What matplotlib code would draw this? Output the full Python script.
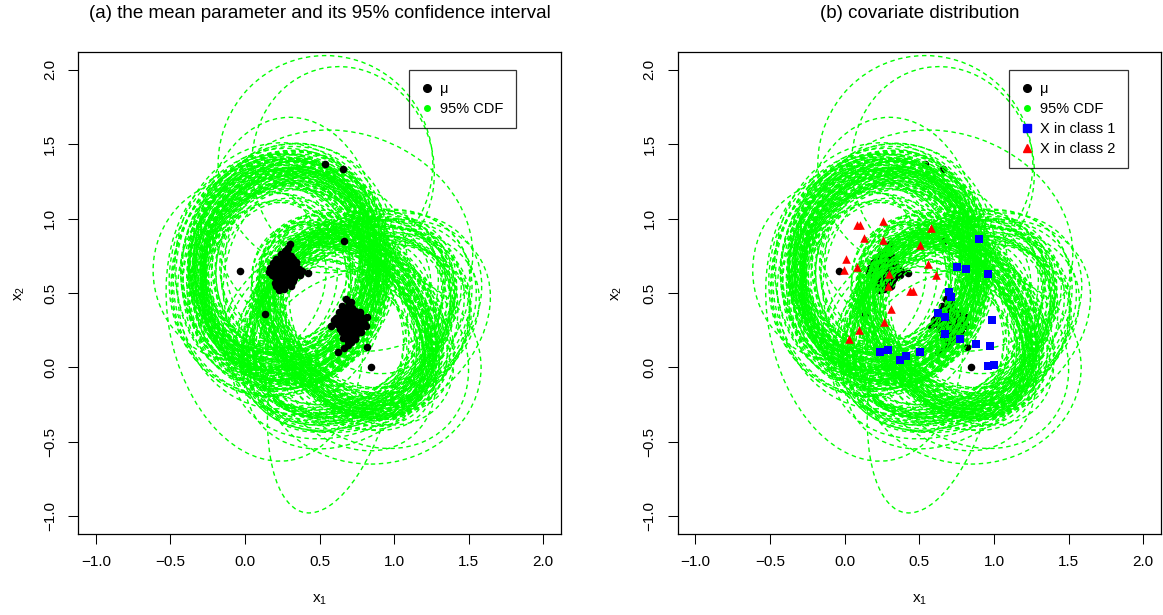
import matplotlib
matplotlib.use("Agg")
import matplotlib.pyplot as plt
from matplotlib.patches import Ellipse
from matplotlib.lines import Line2D

plt.rcParams['font.family'] = ['Liberation Sans', 'DejaVu Sans']
plt.rcParams['lines.scale_dashes'] = False

# posterior samples of the mean, class 1 (upper-left blob)
mu1_x = [0.27, 0.25, 0.29, 0.31, 0.22, 0.24, 0.28, 0.33, 0.26, 0.20, 0.30, 0.27, 0.23, 0.35, 0.29, 0.25,
         0.19, 0.32, 0.28, 0.24, 0.26, 0.30, 0.21, 0.27, 0.34, 0.22, 0.29, 0.25, 0.31, 0.18, 0.28, 0.23,
         0.26, 0.33, 0.30, 0.24, 0.27, 0.21, 0.36, 0.25, 0.29, 0.22, 0.31, 0.26, 0.28, 0.17, 0.32, 0.24,
         0.27, 0.30, 0.23, 0.29, 0.26, 0.38, 0.20, 0.28, 0.25, 0.31, 0.24, 0.27, 0.22, 0.34, 0.28, 0.26,
         0.30, 0.19, 0.27, 0.33, 0.25, 0.29, 0.23, 0.31, 0.16, 0.28, 0.26, 0.35, 0.24, 0.30, 0.21, 0.27,
         0.32, 0.25, 0.29, 0.22, 0.37, 0.27, 0.24, 0.30, 0.26, 0.20, 0.31, 0.28, 0.23, 0.33, 0.25, 0.29]
mu1_y = [0.66, 0.63, 0.69, 0.62, 0.66, 0.71, 0.60, 0.67, 0.74, 0.61, 0.72, 0.57, 0.68, 0.64, 0.65, 0.59,
         0.70, 0.58, 0.63, 0.76, 0.67, 0.61, 0.55, 0.78, 0.70, 0.64, 0.56, 0.69, 0.75, 0.62, 0.71, 0.52,
         0.62, 0.60, 0.66, 0.65, 0.68, 0.73, 0.66, 0.58, 0.80, 0.60, 0.68, 0.53, 0.64, 0.67, 0.73, 0.61,
         0.62, 0.64, 0.70, 0.59, 0.66, 0.65, 0.57, 0.67, 0.72, 0.55, 0.67, 0.69, 0.63, 0.71, 0.77, 0.60,
         0.58, 0.66, 0.73, 0.63, 0.54, 0.68, 0.62, 0.70, 0.64, 0.79, 0.61, 0.67, 0.69, 0.56, 0.66, 0.74,
         0.65, 0.71, 0.60, 0.57, 0.62, 0.63, 0.68, 0.75, 0.59, 0.68, 0.64, 0.72, 0.61, 0.66, 0.70, 0.63]
# 95% region of each sample: full major / minor axis and angle (deg)
ell1_w = [1.30, 1.42, 1.18, 1.55, 1.36, 1.25, 1.48, 1.12, 1.40, 1.62, 1.28, 1.34, 1.20, 1.50, 1.38, 1.05,
          1.44, 1.31, 1.58, 1.26, 1.35, 1.46, 1.15, 1.39, 1.29, 1.68, 1.33, 1.22, 1.52, 1.41, 1.27, 1.37,
          0.98, 1.45, 1.32, 1.24, 1.56, 1.36, 1.19, 1.43, 1.30, 1.60, 1.34, 1.23, 1.47, 1.39, 1.10, 1.35,
          1.28, 1.50, 1.42, 1.26, 1.72, 1.33, 1.21, 1.44, 1.37, 1.31, 1.53, 1.25, 1.16, 1.40, 1.29, 1.49,
          1.34, 1.22, 1.46, 1.38, 1.64, 1.27, 1.41, 1.32, 1.08, 1.36, 1.51, 1.24, 1.43, 1.30, 1.57, 1.39,
          1.26, 1.45, 1.33, 1.20, 1.48, 1.35, 1.66, 1.29, 1.40, 1.14, 1.37, 1.54, 1.28, 1.44, 1.31, 1.23]
ell1_h = [1.12, 1.20, 1.02, 1.30, 1.20, 1.04, 1.28, 0.92, 1.24, 1.38, 1.12, 1.10, 1.06, 1.28, 1.22, 0.88,
          1.22, 1.16, 1.36, 1.06, 1.18, 1.26, 1.00, 1.16, 1.12, 1.44, 1.14, 1.06, 1.30, 1.22, 1.08, 1.20,
          0.84, 1.24, 1.16, 1.06, 1.34, 1.14, 1.04, 1.26, 1.10, 1.40, 1.16, 1.06, 1.26, 1.20, 0.96, 1.14,
          1.10, 1.30, 1.20, 1.10, 1.46, 1.16, 1.02, 1.26, 1.18, 1.12, 1.32, 1.08, 1.00, 1.22, 1.10, 1.28,
          1.16, 1.04, 1.28, 1.18, 1.40, 1.10, 1.20, 1.14, 0.92, 1.18, 1.30, 1.08, 1.22, 1.14, 1.34, 1.20,
          1.08, 1.26, 1.14, 1.04, 1.28, 1.16, 1.42, 1.12, 1.22, 0.98, 1.18, 1.32, 1.10, 1.24, 1.14, 1.06]
ell1_ang = [80, 72, 95, 76, 88, 66, 84, 100, 70, 78, 92, 74, 62, 86, 81, 105,
            77, 90, 68, 83, 73, 97, 79, 64, 85, 75, 102, 71, 80, 93, 67, 78,
            88, 74, 82, 108, 69, 77, 91, 73, 65, 86, 79, 72, 96, 83, 70, 81,
            76, 99, 73, 87, 68, 80, 94, 75, 82, 71, 89, 63, 78, 101, 74, 85,
            72, 92, 80, 67, 84, 76, 98, 70, 90, 69, 83, 77, 104, 73, 81, 87,
            75, 96, 71, 84, 66, 79, 88, 74, 83, 68, 91, 78, 73, 86, 62, 80]

# posterior samples of the mean, class 2 (lower-right blob)
mu2_x = [0.70, 0.68, 0.73, 0.66, 0.75, 0.71, 0.64, 0.69, 0.77, 0.72, 0.67, 0.74, 0.70, 0.62, 0.79, 0.71,
         0.68, 0.73, 0.65, 0.76, 0.70, 0.72, 0.60, 0.74, 0.69, 0.81, 0.67, 0.71, 0.75, 0.63, 0.70, 0.73,
         0.68, 0.78, 0.66, 0.72, 0.70, 0.74, 0.64, 0.69, 0.76, 0.71, 0.67, 0.73, 0.58, 0.72, 0.70, 0.80,
         0.68, 0.75, 0.66, 0.71, 0.74, 0.69, 0.62, 0.77, 0.70, 0.73, 0.67, 0.72, 0.65, 0.78, 0.71, 0.69,
         0.74, 0.63, 0.70, 0.76, 0.68, 0.72, 0.82, 0.66, 0.71, 0.69, 0.75, 0.61, 0.73, 0.70, 0.67, 0.78,
         0.72, 0.66, 0.74, 0.69, 0.79, 0.64, 0.71, 0.76, 0.68, 0.73, 0.70, 0.65, 0.77, 0.71, 0.74, 0.67]
mu2_y = [0.31, 0.28, 0.34, 0.30, 0.26, 0.36, 0.33, 0.23, 0.29, 0.40, 0.35, 0.31, 0.25, 0.29, 0.33, 0.21,
         0.38, 0.27, 0.24, 0.36, 0.42, 0.30, 0.32, 0.19, 0.34, 0.28, 0.27, 0.44, 0.33, 0.37, 0.22, 0.29,
         0.32, 0.24, 0.20, 0.35, 0.28, 0.38, 0.26, 0.30, 0.31, 0.17, 0.39, 0.25, 0.28, 0.33, 0.36, 0.30,
         0.46, 0.23, 0.34, 0.27, 0.32, 0.15, 0.31, 0.35, 0.29, 0.26, 0.30, 0.37, 0.41, 0.27, 0.32, 0.24,
         0.20, 0.33, 0.38, 0.29, 0.31, 0.25, 0.34, 0.28, 0.36, 0.22, 0.30, 0.33, 0.27, 0.43, 0.29, 0.32,
         0.26, 0.35, 0.31, 0.18, 0.30, 0.28, 0.39, 0.34, 0.33, 0.29, 0.25, 0.32, 0.37, 0.21, 0.30, 0.27]
ell2_w = [1.40, 1.28, 1.52, 1.35, 1.62, 1.22, 1.45, 1.33, 1.70, 1.38, 1.18, 1.48, 1.30, 1.58, 1.42, 1.12,
          1.50, 1.36, 1.26, 1.66, 1.40, 1.32, 1.55, 1.24, 1.46, 1.78, 1.34, 1.20, 1.52, 1.39, 1.29, 1.60,
          1.10, 1.44, 1.36, 1.27, 1.57, 1.41, 1.31, 1.49, 1.23, 1.64, 1.37, 1.15, 1.47, 1.33, 1.54, 1.40,
          1.26, 1.59, 1.43, 1.30, 1.74, 1.35, 1.21, 1.51, 1.38, 1.45, 1.28, 1.56, 1.34, 1.48, 1.19, 1.42,
          1.61, 1.32, 1.44, 1.25, 1.53, 1.37, 1.68, 1.29, 1.41, 1.14, 1.50, 1.35, 1.46, 1.27, 1.58, 1.39,
          1.31, 1.55, 1.40, 1.22, 1.63, 1.36, 1.47, 1.33, 1.44, 1.26, 1.52, 1.38, 1.30, 1.71, 1.42, 1.35]
ell2_h = [0.98, 0.88, 1.10, 0.92, 1.18, 0.82, 1.02, 0.94, 1.24, 0.96, 0.78, 1.06, 0.90, 1.14, 1.00, 0.72,
          1.08, 0.94, 0.86, 1.20, 0.98, 0.92, 1.12, 0.84, 1.04, 1.30, 0.92, 0.80, 1.10, 0.96, 0.90, 1.16,
          0.70, 1.02, 0.96, 0.88, 1.14, 0.98, 0.92, 1.06, 0.84, 1.20, 0.94, 0.76, 1.04, 0.94, 1.10, 0.98,
          0.86, 1.14, 1.00, 0.90, 1.28, 0.94, 0.82, 1.08, 0.96, 1.02, 0.88, 1.12, 0.94, 1.04, 0.80, 1.00,
          1.16, 0.92, 1.02, 0.86, 1.10, 0.96, 1.22, 0.90, 0.98, 0.74, 1.08, 0.94, 1.04, 0.88, 1.14, 0.96,
          0.92, 1.12, 0.98, 0.82, 1.18, 0.94, 1.04, 0.92, 1.02, 0.86, 1.08, 0.96, 0.90, 1.24, 1.00, 0.94]
ell2_ang = [-50, -42, 40, -47, 30, -62, 50, -45, 35, -40, -66, 45, -51, 25, -57, -44,
            55, -48, -33, 38, -46, -52, 20, -63, 42, 30, -56, -37, 48, -48, -43, 33,
            -68, -46, -55, -39, 40, -61, -44, 28, -47, 45, -57, -49, 36, -58, 52, -45,
            -64, 22, -54, -48, 40, -43, -60, 47, -56, 38, -53, 30, -38, 44, -45, -51,
            26, -58, -50, -34, 50, -47, 36, -65, -42, -53, 43, -60, 32, -51, 55, -46,
            -57, 35, -63, -50, 24, -54, 46, -49, -52, -46, 39, -41, -55, 31, -44, -61]

# stray samples with their (wide) ellipses
out_x = [0.54, 0.658, 0.665, -0.036, 0.134, 0.301, 0.424, 0.821, 0.844, 0.625, 0.663]
out_y = [1.366, 1.334, 0.851, 0.651, 0.361, 0.831, 0.634, 0.134, 0.000, 0.101, 0.130]
out_w = [1.44, 1.22, 1.76, 1.16, 1.30, 1.20, 1.40, 1.50, 1.48, 2.20, 1.50]
out_h = [1.46, 1.38, 1.45, 1.22, 2.00, 1.70, 1.10, 1.20, 1.30, 0.85, 1.10]
out_ang = [0, 10, -20, 0, 10, 0, 70, -45, 0, 78, -55]

# observed covariates
cls1_x = [0.899, 0.750, 0.810, 0.958, 0.699, 0.712, 0.623, 0.672, 0.985, 0.672,
          0.772, 0.877, 0.973, 0.236, 0.288, 0.504, 0.411, 0.370, 0.958, 1.000]
cls1_y = [0.866, 0.676, 0.663, 0.625, 0.504, 0.470, 0.363, 0.336, 0.316, 0.226,
          0.193, 0.154, 0.141, 0.101, 0.114, 0.101, 0.079, 0.047, 0.007, 0.013]
cls2_x = [0.085, 0.105, 0.255, 0.131, 0.255, 0.576, 0.504, 0.009, -0.003, 0.080, 0.556,
          0.610, 0.299, 0.290, 0.437, 0.459, 0.308, 0.265, 0.098, 0.031]
cls2_y = [0.955, 0.960, 0.985, 0.869, 0.858, 0.936, 0.824, 0.730, 0.656, 0.674, 0.696,
          0.623, 0.629, 0.544, 0.515, 0.515, 0.392, 0.307, 0.253, 0.193]

ticks = [-1.0, -0.5, 0.0, 0.5, 1.0, 1.5, 2.0]
GREEN = '#00ff00'

all_x = mu1_x + mu2_x + out_x
all_y = mu1_y + mu2_y + out_y
all_w = ell1_w + ell2_w + out_w
all_h = ell1_h + ell2_h + out_h
all_a = ell1_ang + ell2_ang + out_ang


def draw_ellipses(ax, z):
    for x, y, w, h, a in zip(all_x, all_y, all_w, all_h, all_a):
        ax.add_patch(Ellipse((x, y), w, h, angle=a, fill=False, ec=GREEN,
                             lw=1.0, ls=(0, (3.2, 2.6)), zorder=z))


def style_axes(ax, ylab_x):
    ax.set_xlim(-1.12, 2.12)
    ax.set_ylim(-1.12, 2.12)
    ax.set_xticks(ticks)
    ax.set_yticks(ticks)
    labels = [f"{t:.1f}".replace('-', '\u2212') for t in ticks]
    ax.set_xticklabels(labels)
    ax.set_yticklabels(labels, rotation=90, va='center')
    ax.tick_params(direction='out', length=7, width=0.75, labelsize=11, pad=8)
    for s in ax.spines.values():
        s.set_linewidth(0.9)
    ax.text(0.5, -0.137, r'$\mathregular{x_1}$', transform=ax.transAxes,
            ha='center', va='center', fontsize=11)
    ax.text(ylab_x, 0.5, r'$\mathregular{x_2}$', transform=ax.transAxes,
            ha='center', va='center', fontsize=11, rotation=90)


fig = plt.figure(figsize=(11.63, 6.15), dpi=100)
ax1 = fig.add_axes([78 / 1163, 1 - 534 / 615, 483 / 1163, 482 / 615])
ax2 = fig.add_axes([677.5 / 1163, 1 - 534 / 615, 483.7 / 1163, 482 / 615])

# (a) ellipses first, then the mean samples on top
draw_ellipses(ax1, 1)
ax1.scatter(all_x, all_y, s=30, c='black', zorder=3, linewidths=0)
style_axes(ax1, -0.12)

# (b) mean samples under the ellipses, data on top
ax2.scatter(all_x, all_y, s=30, c='black', zorder=1, linewidths=0)
draw_ellipses(ax2, 2)
ax2.scatter(cls1_x, cls1_y, s=30, marker='s', c='#0000ff', zorder=4, linewidths=0)
ax2.scatter(cls2_x, cls2_y, s=38, marker='^', c='#ff0000', zorder=4, linewidths=0)
style_axes(ax2, -0.126)

h_mu = Line2D([], [], ls='none', marker='o', ms=5.5, mfc='black', mec='black')
h_cdf = Line2D([], [], ls='none', marker='o', ms=4, mfc=GREEN, mec=GREEN)
h_c1 = Line2D([], [], ls='none', marker='s', ms=5.5, mfc='#0000ff', mec='#0000ff')
h_c2 = Line2D([], [], ls='none', marker='^', ms=6, mfc='#ff0000', mec='#ff0000')

leg_kw = dict(loc='upper left', bbox_to_anchor=(0.685, 0.963), fontsize=10.5,
              fancybox=False, edgecolor='black', facecolor='none',
              handlelength=0.8, handletextpad=0.5, borderpad=0.85, labelspacing=0.4,
              borderaxespad=0)
l1 = ax1.legend([h_mu, h_cdf], ['\u03bc', '95% CDF'], **leg_kw)
l2 = ax2.legend([h_mu, h_cdf, h_c1, h_c2], ['\u03bc', '95% CDF', 'X in class 1', 'X in class 2'], **leg_kw)
for l in (l1, l2):
    l.get_frame().set_linewidth(0.9)
    l.set_zorder(5)

fig.text((78 + 561) / 2 / 1163, 1 - 14 / 615, '(a) the mean parameter and its 95% confidence interval',
         ha='center', va='center', fontsize=13.5)
fig.text((677.5 + 1161) / 2 / 1163, 1 - 14 / 615, '(b) covariate distribution',
         ha='center', va='center', fontsize=13.5)

fig.savefig('out.png', dpi=100)
